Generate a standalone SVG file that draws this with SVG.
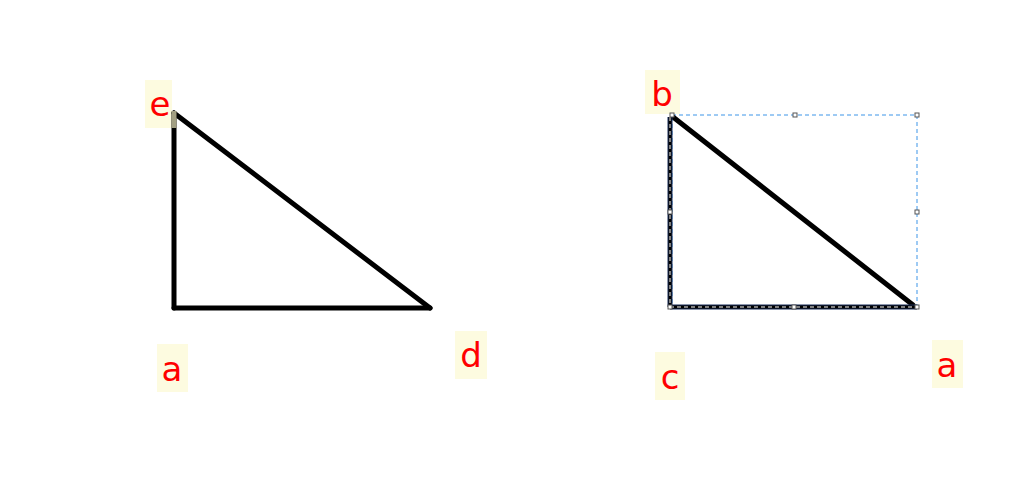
<svg xmlns="http://www.w3.org/2000/svg" width="1024" height="487" viewBox="0 0 1024 487">
<style>
.lbl rect{fill:#fdfbe0}
.lbl text{font-family:"DejaVu Sans",sans-serif;font-size:34px;fill:#ff0000;text-anchor:middle}
.edge{stroke:#000;stroke-width:5;fill:none;stroke-linecap:round}
.sel{stroke:#1a2e5a;stroke-width:5;fill:none}
.seldash{stroke:#fff;stroke-width:1;stroke-dasharray:4 3;fill:none}
.bbox{stroke:#3d95e8;stroke-width:1;stroke-dasharray:4 3;fill:none}
.h{fill:#fff;stroke:#555;stroke-width:1}
</style>
<rect width="1024" height="487" fill="#fff"/>
<g id="node-e" class="lbl"><rect x="145" y="80" width="27" height="48"/><text x="160" y="116">e</text></g>
<g id="node-a-left" class="lbl"><rect x="157" y="344" width="31" height="48"/><text x="172" y="381">a</text></g>
<g id="node-d" class="lbl"><rect x="455" y="331" width="32" height="48"/><text x="471" y="367">d</text></g>
<g id="node-b" class="lbl"><rect x="645" y="70" width="35" height="44"/><text x="662" y="106">b</text></g>
<g id="node-c" class="lbl"><rect x="655" y="352" width="30" height="48"/><text x="670" y="389">c</text></g>
<g id="node-a-right" class="lbl"><rect x="932" y="340" width="31" height="48"/><text x="947" y="377">a</text></g>
<g id="connectors">
<g id="left-triangle">
<line class="edge" x1="174" y1="113" x2="174" y2="308"/>
<line class="edge" x1="174" y1="308" x2="430" y2="308"/>
<line class="edge" x1="174" y1="113" x2="430" y2="308"/>
<line x1="174" y1="111" x2="174" y2="128" stroke="#a29f82" stroke-width="5"/>
</g>
<g id="right-triangle">
<rect class="bbox" x="672" y="115" width="245" height="192"/>
<line class="edge" x1="673" y1="117" x2="913" y2="305"/>
<line class="sel" x1="670" y1="117" x2="670" y2="307"/>
<line class="sel" x1="670" y1="307" x2="917" y2="307"/>
<line x1="670" y1="117" x2="670" y2="307" stroke="#000" stroke-width="3"/>
<line x1="670" y1="307" x2="917" y2="307" stroke="#000" stroke-width="3"/>
<line class="seldash" x1="670" y1="117" x2="670" y2="307"/>
<line class="seldash" x1="670" y1="307" x2="917" y2="307"/>
<rect class="h" x="670" y="113" width="4" height="4"/>
<rect class="h" x="793" y="113" width="4" height="4"/>
<rect class="h" x="915" y="113" width="4" height="4"/>
<rect class="h" x="915" y="210" width="4" height="4"/>
<rect class="h" x="915" y="305" width="4" height="4"/>
<rect class="h" x="792" y="305" width="4" height="4"/>
<rect class="h" x="668" y="305" width="4" height="4"/>
<rect class="h" x="668" y="210" width="4" height="4"/>
</g>
</g>
</svg>
